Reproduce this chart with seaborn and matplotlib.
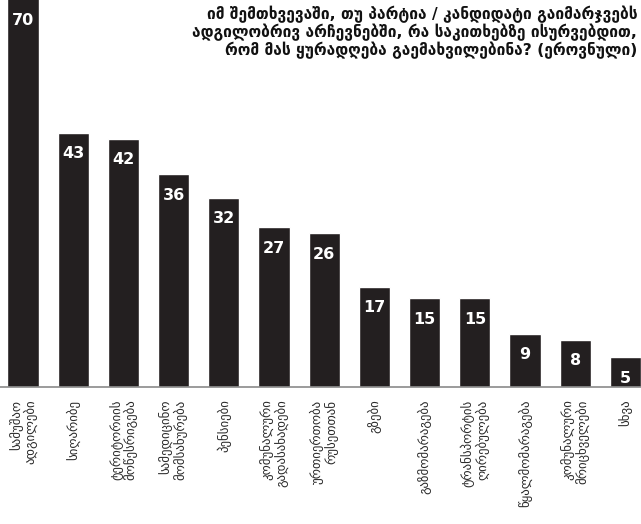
import matplotlib
matplotlib.use("Agg")
import matplotlib.pyplot as plt
import seaborn as sns
import pandas as pd

categories = [
    "სამუშაო\nადგილები",
    "სიღარიბე",
    "ტერიტორიის\nმოწესრიგება",
    "სამედიცინო\nმომსახურება",
    "პენსიები",
    "კომუნალური\nგადასახადები",
    "ურთიერთობა\nრუსეთთან",
    "გზები",
    "გაზმომარაგება",
    "ტრანსპორტის\nღირებულება",
    "წყალმომარაგება",
    "კომუნალური\nმრიცხველები",
    "სხვა",
]
values = [70, 43, 42, 36, 32, 27, 26, 17, 15, 15, 9, 8, 5]
title = ("იმ შემთხვევაში, თუ პარტია / კანდიდატი გაიმარჯვებს\n"
         "ადგილობრივ არჩევნებში, რა საკითხებზე ისურვებდით,\n"
         "რომ მას ყურადღება გაემახვილებინა? (ეროვნული)")

sns.set_theme(style="white")
plt.rcParams['font.family'] = ['DejaVu Sans']

df = pd.DataFrame({"cat": categories, "val": values})

fig = plt.figure(figsize=(6.41, 5.24), dpi=100)
ax = fig.add_axes([0, 1 - 387 / 524, 1, 387 / 524])
sns.barplot(data=df, x="cat", y="val", color="#231f20", width=0.62,
            saturation=1, ax=ax)
ytop = 65.5
ax.set_ylim(0, ytop)
ax.set_xlim(-0.458, 12.31)
for s in ["top", "right", "left"]:
    ax.spines[s].set_visible(False)
ax.spines["bottom"].set_color("#8a8a8a")
ax.spines["bottom"].set_linewidth(1.2)
ax.set_yticks([])
ax.set_xlabel("")
ax.set_ylabel("")
ax.tick_params(axis="x", length=0, pad=9)
ax.set_xticks(range(len(categories)))
ax.set_xticklabels(categories, rotation=90, fontsize=9.3, color="#2a2a2a",
                   va="top", ha="center", multialignment="right",
                   linespacing=1.0)

for i, v in enumerate(values):
    ax.annotate(str(v), xy=(i, min(v, ytop)), xytext=(0, -15),
                textcoords="offset points", ha="center", va="center",
                color="white", fontsize=11.5, fontweight="bold")

fig.text(0.994, 0.99, title, ha="right", va="top", fontsize=11.2,
         fontweight="bold", color="#111111", linespacing=1.05)

fig.savefig("out.png", dpi=100)
